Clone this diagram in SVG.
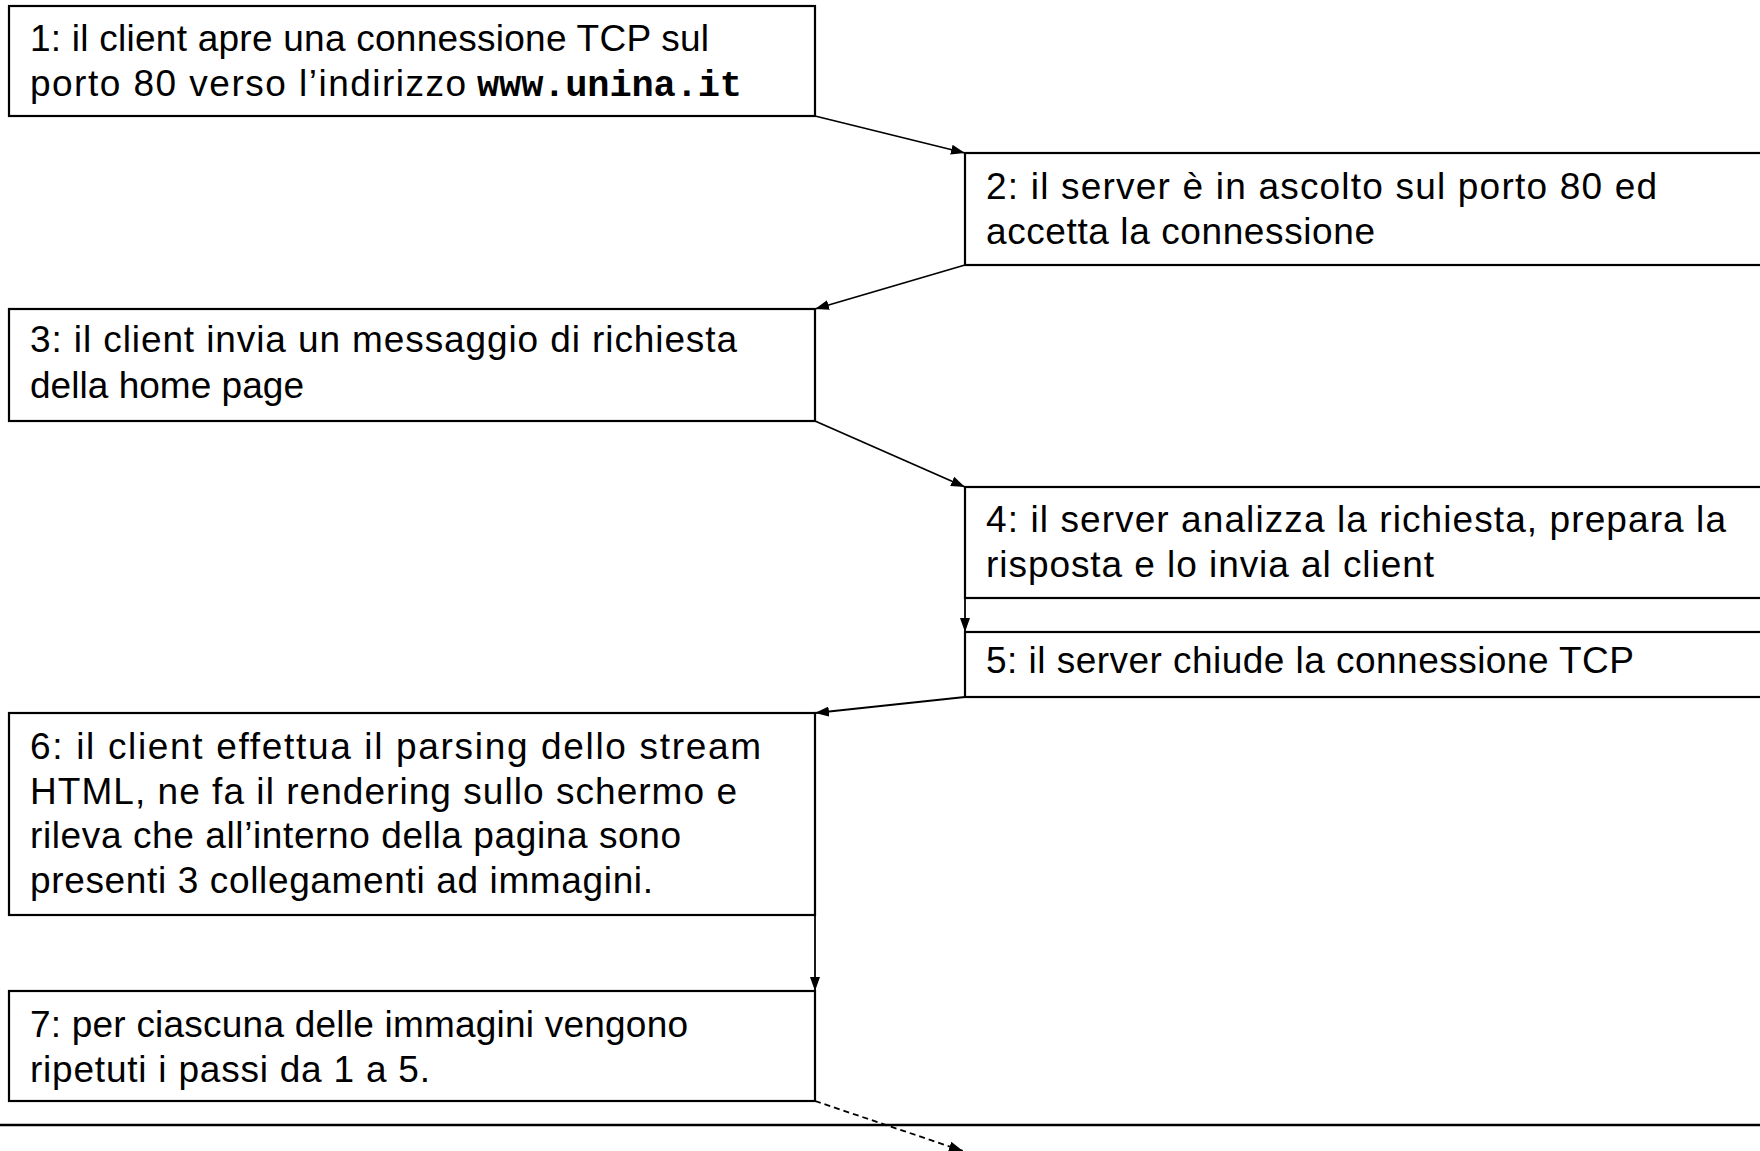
<svg xmlns="http://www.w3.org/2000/svg" width="1760" height="1151" viewBox="0 0 1760 1151">
  <defs>
    <marker id="head" viewBox="0 0 14 10" refX="14" refY="5" markerWidth="14" markerHeight="10" markerUnits="userSpaceOnUse" orient="auto">
      <path d="M0,0 L14,5 L0,10 Z" fill="#000"/>
    </marker>
    <style>
      .box { fill: #fff; stroke: #000; stroke-width: 2.2; }
      .t { font-family: "Liberation Sans", Arial, sans-serif; font-size: 37px; fill: #000; }
      .mono { font-family: "Liberation Mono", "Courier New", monospace; font-weight: bold; }
      .link { fill: none; stroke: #000; stroke-width: 1.8; marker-end: url(#head); }
      .dash { stroke-dasharray: 6 4; }
    </style>
  </defs>
  <rect width="1760" height="1151" fill="#fff"/>

  <g id="connectors">
    <line class="link" x1="815" y1="116" x2="965" y2="153"/>
    <line class="link" x1="965" y1="265" x2="815" y2="309"/>
    <line class="link" x1="815" y1="421" x2="965" y2="487"/>
    <line class="link" x1="965" y1="598" x2="965" y2="632"/>
    <line class="link" x1="965" y1="697" x2="815" y2="713"/>
    <line class="link" x1="815" y1="915" x2="815" y2="991"/>
    <line class="link dash" x1="815" y1="1101" x2="963" y2="1151"/>
  </g>

  <g id="step1">
    <rect class="box" x="9" y="6" width="806" height="110"/>
    <text class="t" x="30" y="51" textLength="679">1: il client apre una connessione TCP sul</text>
    <text class="t" x="30" y="96"><tspan textLength="436">porto 80 verso l’indirizzo</tspan><tspan class="mono" x="477" textLength="265">www.unina.it</tspan></text>
  </g>

  <g id="step2">
    <rect class="box" x="965" y="153" width="800" height="112"/>
    <text class="t" x="986" y="199" textLength="671">2: il server è in ascolto sul porto 80 ed</text>
    <text class="t" x="986" y="244" textLength="389">accetta la connessione</text>
  </g>

  <g id="step3">
    <rect class="box" x="9" y="309" width="806" height="112"/>
    <text class="t" x="30" y="352" textLength="707">3: il client invia un messaggio di richiesta</text>
    <text class="t" x="30" y="398" textLength="274">della home page</text>
  </g>

  <g id="step4">
    <rect class="box" x="965" y="487" width="800" height="111"/>
    <text class="t" x="986" y="532" textLength="740">4: il server analizza la richiesta, prepara la</text>
    <text class="t" x="986" y="577" textLength="448">risposta e lo invia al client</text>
  </g>

  <g id="step5">
    <rect class="box" x="965" y="632" width="800" height="65"/>
    <text class="t" x="986" y="673" textLength="648">5: il server chiude la connessione TCP</text>
  </g>

  <g id="step6">
    <rect class="box" x="9" y="713" width="806" height="202"/>
    <text class="t" x="30" y="759" textLength="731">6: il client effettua il parsing dello stream</text>
    <text class="t" x="30" y="804" textLength="707">HTML, ne fa il rendering sullo schermo e</text>
    <text class="t" x="30" y="848" textLength="651">rileva che all’interno della pagina sono</text>
    <text class="t" x="30" y="893" textLength="623">presenti 3 collegamenti ad immagini.</text>
  </g>

  <g id="step7">
    <rect class="box" x="9" y="991" width="806" height="110"/>
    <text class="t" x="30" y="1037" textLength="658">7: per ciascuna delle immagini vengono</text>
    <text class="t" x="30" y="1082" textLength="400">ripetuti i passi da 1 a 5.</text>
  </g>

  <line id="separator" x1="0" y1="1125" x2="1760" y2="1125" stroke="#000" stroke-width="2.5"/>
</svg>
